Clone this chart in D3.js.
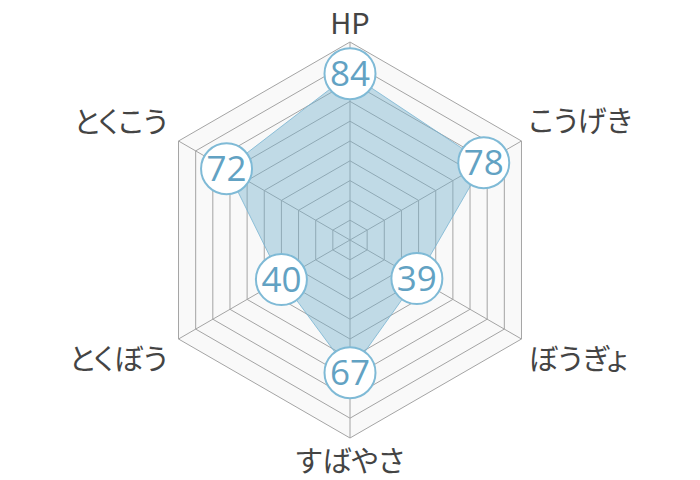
<!DOCTYPE html>
<html><head><meta charset="utf-8">
<script src="https://cdn.jsdelivr.net/npm/d3@7"></script>
<style>body{margin:0;background:#fff}</style>
</head><body>
<svg id="c" width="700" height="480"></svg>
<script>
const categories = ["HP","こうげき","ぼうぎょ","すばやさ","とくぼう","とくこう"];
const values = [84,78,39,67,40,72];
const maxValue = 100;
const levels = [10,20,30,40,50,60,70,80,90,100];

const svg = d3.select("#c");
const cx = 350, cy = 240, R = 198;
const r = d3.scaleLinear().domain([0,maxValue]).range([0,R]);
const n = categories.length;
const ang = i => -Math.PI/2 + i*2*Math.PI/n;
const pt = (i,v) => [cx + r(v)*Math.cos(ang(i)), cy + r(v)*Math.sin(ang(i))];
const line = d3.line();
const g = svg.append("g");

// background
g.append("path").attr("d", line(d3.range(n).map(i=>pt(i,maxValue)))+"Z")
  .attr("fill","#f9f9f9");
// grid rings
levels.forEach(l=>{
  g.append("path").attr("d", line(d3.range(n).map(i=>pt(i,l)))+"Z")
   .attr("fill","none").attr("stroke","#a4a4a4").attr("stroke-width",1);
});
// spokes
d3.range(n).forEach(i=>{
  const p = pt(i,maxValue);
  g.append("line").attr("x1",cx).attr("y1",cy).attr("x2",p[0]).attr("y2",p[1])
   .attr("stroke","#a4a4a4").attr("stroke-width",1);
});
// data polygon
g.append("path").attr("d", line(values.map((v,i)=>pt(i,v)))+"Z")
  .attr("fill","rgba(114,176,206,0.42)").attr("stroke","rgba(120,180,210,0.8)").attr("stroke-width",1);

// labels
const labelPos = [
  {dx:0, dy:-8, anchor:"middle"},
  {dx:7, dy:-9, anchor:"start"},
  {dx:7, dy:31, anchor:"start"},
  {dx:0, dy:34, anchor:"middle"},
  {dx:-11, dy:31, anchor:"end"},
  {dx:-11, dy:-8, anchor:"end"}
];
categories.forEach((c,i)=>{
  const p = pt(i,maxValue);
  g.append("text").attr("x",p[0]+labelPos[i].dx).attr("y",p[1]+labelPos[i].dy)
   .attr("text-anchor",labelPos[i].anchor)
   .attr("font-family","'Noto Sans CJK JP','Noto Sans',sans-serif")
   .style("font-feature-settings","'palt'")
   .attr("font-size",29).attr("fill","#444").text(c);
});

// value bubbles
values.forEach((v,i)=>{
  const p = pt(i,v);
  g.append("circle").attr("cx",p[0]).attr("cy",p[1]).attr("r",25.5)
   .attr("fill","#fff").attr("stroke","#7fbad6").attr("stroke-width",2);
  g.append("text").attr("x",p[0]).attr("y",p[1]).attr("dy","0.36em")
   .attr("text-anchor","middle")
   .attr("font-family","'Open Sans',sans-serif").attr("font-weight",400)
   .attr("font-size",35).attr("fill","#62a2c3").text(v);
});
</script>
</body></html>
